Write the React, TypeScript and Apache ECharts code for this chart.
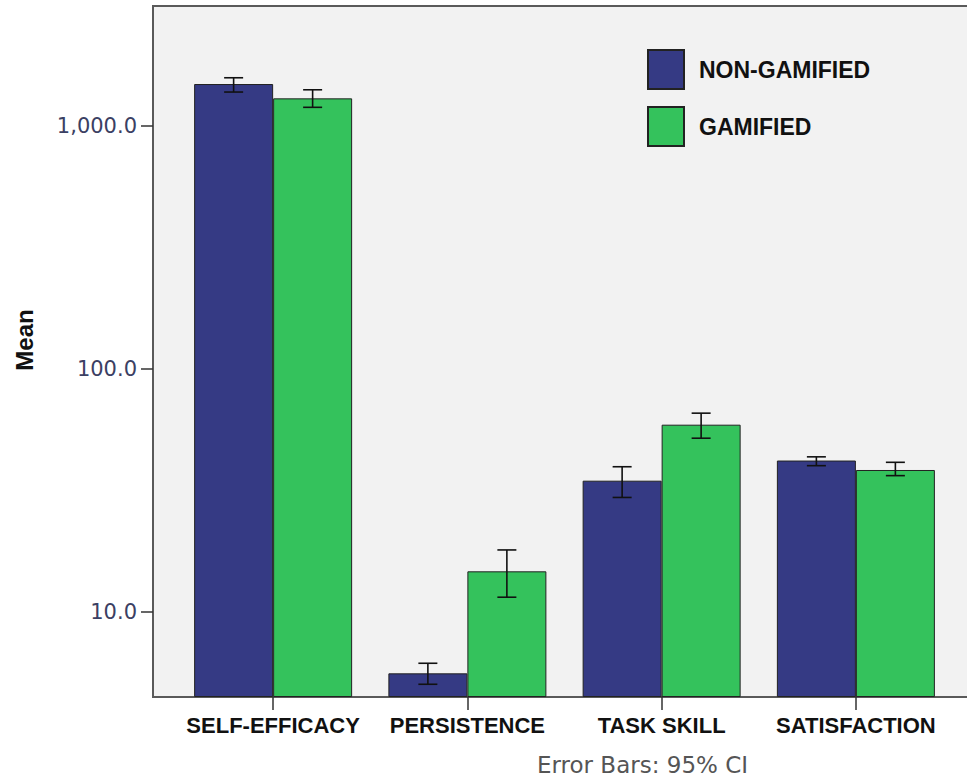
import React, { useEffect, useRef } from "react";
import * as echarts from "echarts";

const categories = ["SELF-EFFICACY", "PERSISTENCE", "TASK SKILL", "SATISFACTION"];
const seriesNames = ["NON-GAMIFIED", "GAMIFIED"];
const nonGamifiedMean = [1489, 5.59, 34.7, 42.0];
const gamifiedMean = [1300, 14.7, 59.0, 38.4];
const nonGamifiedLow = [1380, 5.04, 29.6, 40.0];
const nonGamifiedHigh = [1580, 6.15, 39.6, 43.5];
const gamifiedLow = [1194, 11.5, 51.9, 36.4];
const gamifiedHigh = [1410, 18.0, 65.8, 41.3];
const yTicks = [10, 100, 1000];
const Y_MIN = 4.467;
const Y_MAX = 3119;

const NAVY = "#353a84";
const GREEN = "#34c25c";
const BAR_W = 79;

export default function App() {
  const ref = useRef<HTMLDivElement>(null);
  useEffect(() => {
    if (!ref.current) return;
    const chart = echarts.init(ref.current, undefined, { renderer: "svg" });

    const errData = (lo: number[], hi: number[]) =>
      categories.map((_, i) => [i, lo[i], hi[i]]);

    const errSeries = (name: string, lo: number[], hi: number[], dir: number) => ({
      type: "custom",
      name: name + " CI",
      data: errData(lo, hi),
      encode: { x: 0, y: [1, 2] },
      z: 5,
      renderItem: (params: any, api: any) => {
        const i = api.value(0);
        const pLo = api.coord([i, api.value(1)]);
        const pHi = api.coord([i, api.value(2)]);
        const x = pLo[0] + (dir * BAR_W) / 2;
        const cap = 9.5;
        const style = { stroke: "#111", lineWidth: 1.6 };
        return {
          type: "group",
          children: [
            { type: "line", shape: { x1: x, y1: pLo[1], x2: x, y2: pHi[1] }, style },
            { type: "line", shape: { x1: x - cap, y1: pLo[1], x2: x + cap, y2: pLo[1] }, style },
            { type: "line", shape: { x1: x - cap, y1: pHi[1], x2: x + cap, y2: pHi[1] }, style },
          ],
        };
      },
    });

    chart.setOption({
      animation: false,
      graphic: [
        {
          type: "rect",
          z: -10,
          shape: { x: 153, y: 6, width: 840, height: 691 },
          style: { fill: "#f2f2f2", stroke: "#5a5a5a", lineWidth: 2 },
        },
        {
          type: "text",
          x: 24,
          y: 340,
          rotation: Math.PI / 2,
          style: {
            text: "Mean",
            fontFamily: "Liberation Sans",
            fontWeight: "bold",
            fontSize: 24,
            fill: "#111",
            align: "center",
            verticalAlign: "middle",
          },
        },
        {
          type: "text",
          x: 537,
          y: 765,
          style: {
            text: "Error Bars: 95% CI",
            fontFamily: "DejaVu Sans",
            fontSize: 23,
            fill: "#555",
            align: "left",
            verticalAlign: "middle",
          },
        },
      ],
      legend: {
        orient: "vertical",
        left: 647,
        top: 49,
        padding: 0,
        itemWidth: 36,
        itemHeight: 39,
        itemGap: 16,
        data: seriesNames,
        icon: "rect",
        textStyle: {
          fontFamily: "Liberation Sans",
          fontWeight: "bold",
          fontSize: 23,
          color: "#111",
          padding: [0, 0, 0, 10],
        },
      },
      grid: { left: 176, right: 14, top: 6, bottom: 81, containLabel: false },
      xAxis: {
        type: "category",
        data: categories,
        boundaryGap: true,
        axisLine: { show: true, lineStyle: { color: "#5a5a5a", width: 2 } },
        axisTick: { show: true, alignWithLabel: true, length: 13, lineStyle: { color: "#333", width: 1.5 } },
        axisLabel: {
          interval: 0,
          margin: 17,
          fontFamily: "Liberation Sans",
          fontWeight: "bold",
          fontSize: 22,
          color: "#111",
        },
        splitLine: { show: false },
      },
      yAxis: {
        type: "log",
        logBase: 10,
        min: Y_MIN,
        max: Y_MAX,
        startValue: Y_MIN,
        offset: 23,
        axisLine: { show: true, lineStyle: { color: "#5a5a5a", width: 2 } },
        axisTick: { show: true, length: 12, customValues: yTicks, lineStyle: { color: "#333", width: 1.5 } },
        axisLabel: {
          customValues: yTicks,
          margin: 16,
          fontFamily: "DejaVu Sans",
          fontSize: 21,
          color: "#3b4063",
          formatter: (v: number) =>
            Number(v).toLocaleString("en-US", { minimumFractionDigits: 1, maximumFractionDigits: 1 }),
        },
        splitLine: { show: false },
        minorTick: { show: false },
      },
      series: [
        {
          type: "bar",
          name: seriesNames[0],
          data: nonGamifiedMean,
          barWidth: BAR_W,
          barGap: "0%",
          itemStyle: { color: NAVY, borderColor: "#222", borderWidth: 1 },
        },
        {
          type: "bar",
          name: seriesNames[1],
          data: gamifiedMean,
          barWidth: BAR_W,
          barGap: "0%",
          itemStyle: { color: GREEN, borderColor: "#222", borderWidth: 1 },
        },
        errSeries(seriesNames[0], nonGamifiedLow, nonGamifiedHigh, -1),
        errSeries(seriesNames[1], gamifiedLow, gamifiedHigh, 1),
      ],
    });
    return () => chart.dispose();
  }, []);
  return <div ref={ref} style={{ width: 967, height: 778, position: "absolute", left: 0, top: 0 }} />;
}
